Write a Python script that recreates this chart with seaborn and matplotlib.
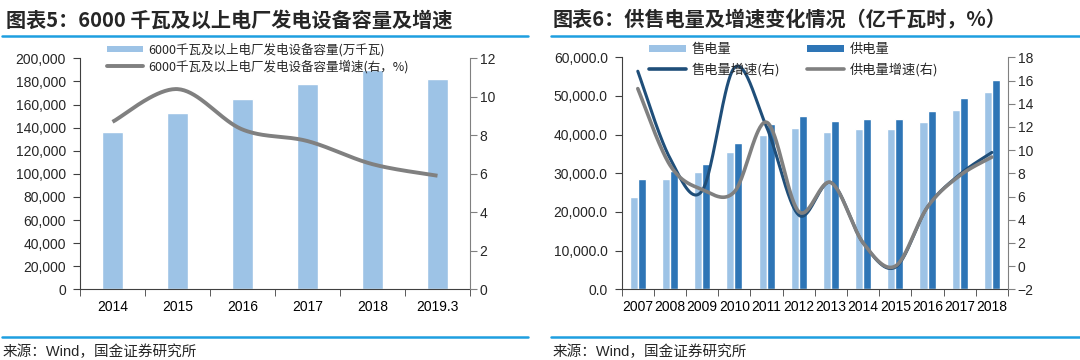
import numpy as np
import pandas as pd
import matplotlib
matplotlib.use("Agg")
import matplotlib.pyplot as plt
import seaborn as sns
from matplotlib.patches import Patch
from matplotlib.lines import Line2D
from matplotlib.ticker import FuncFormatter

# data
years_l = ["2014", "2015", "2016", "2017", "2018", "2019.3"]
capacity = [136400, 152400, 164500, 177700, 189800, 181800]
cap_growth = [8.7, 10.4, 8.3, 7.7, 6.5, 5.9]

years_r = [str(y) for y in range(2007, 2019)]
sales = [23900, 28400, 30300, 35400, 39800, 41700, 40700, 41400, 41500, 43200, 46400, 51000]
supply = [28400, 30500, 32500, 37900, 42700, 44800, 43500, 44100, 44100, 46200, 49500, 54100]
sales_growth = [16.8, 9.3, 6.5, 17.1, 12.0, 4.4, 7.2, 2.0, -0.1, 5.1, 7.9, 9.8]
supply_growth = [15.3, 8.7, 6.6, 6.4, 12.4, 4.7, 7.2, 2.0, 0.0, 5.1, 7.8, 9.4]

light = "#9DC3E6"
dark = "#2E75B6"
navy = "#1F4E79"
gray = "#808080"
rule_blue = "#1E9FE0"

sns.set_style("ticks")
plt.rcParams["font.family"] = ["Liberation Sans", "Noto Sans CJK SC", "DejaVu Sans"]
cjk = ["Noto Sans CJK SC", "DejaVu Sans"]


def smooth(ys, n=40):
    # excel-like smoothed line (bezier through the points)
    pts = np.column_stack([np.arange(len(ys)), ys]).astype(float)
    xs_out, ys_out = [], []
    for i in range(len(pts) - 1):
        p0 = pts[i - 1] if i > 0 else pts[i]
        p1, p2 = pts[i], pts[i + 1]
        p3 = pts[i + 2] if i + 2 < len(pts) else pts[i + 1]
        c1 = p1 + (p2 - p0) / 6
        c2 = p2 - (p3 - p1) / 6
        t = np.linspace(0, 1, n)[:, None]
        b = ((1 - t) ** 3) * p1 + 3 * ((1 - t) ** 2) * t * c1 + 3 * (1 - t) * t ** 2 * c2 + t ** 3 * p2
        xs_out.extend(b[:, 0])
        ys_out.extend(b[:, 1])
    return xs_out, ys_out


def style_axes(ax, ax2, n):
    ax.spines["top"].set_visible(False)
    ax.spines["right"].set_visible(False)
    ax.spines["left"].set_color("#404040")
    ax.spines["bottom"].set_color("#404040")
    for s in ["top", "left", "bottom"]:
        ax2.spines[s].set_visible(False)
    ax2.spines["right"].set_color(gray)
    ax.set_xlim(-0.5, n - 0.5)
    ax.set_xticks(np.arange(-0.5, n, 1), minor=True)
    ax.tick_params(axis="x", which="major", length=0, pad=8, labelsize=10, colors="black")
    ax.tick_params(axis="x", which="minor", length=5, direction="out", color="#404040")
    ax.tick_params(axis="y", length=5, direction="out", pad=5, labelsize=10, color="#404040")
    ax2.tick_params(axis="y", length=5, direction="out", pad=2, labelsize=10, color=gray)
    ax.set_xlabel("")
    ax.set_ylabel("")


fig = plt.figure(figsize=(10.8, 3.6), dpi=100)

# left chart
ax = fig.add_axes([80 / 1080, 1 - 289.3 / 360, 390 / 1080, 231 / 360])
sns.barplot(x=years_l, y=capacity, color=light, saturation=1, width=0.33, ax=ax)
ax.set_ylim(0, 200000)
ax.set_yticks(range(0, 200001, 20000))
ax.yaxis.set_major_formatter(FuncFormatter(lambda v, p: f"{v:,.0f}"))
ax2 = ax.twinx()
sx, sy = smooth(cap_growth)
ax2.plot(sx, sy, color=gray, lw=2.8, solid_capstyle="butt")
ax2.set_ylim(0, 12)
ax2.set_yticks(range(0, 13, 2))
style_axes(ax, ax2, len(years_l))

fig.legend(handles=[Patch(facecolor=light, edgecolor="none"),
                    Line2D([], [], color=gray, lw=2.8)],
           labels=["6000千瓦及以上电厂发电设备容量(万千瓦)", "6000千瓦及以上电厂发电设备容量增速(右，%)"],
           loc="upper left", bbox_to_anchor=(107 / 1080, 1 - 43 / 360), frameon=False,
           prop={"family": cjk, "size": 9}, handlelength=2.9, handleheight=0.45,
           handletextpad=0.4, labelspacing=0.25, borderpad=0, borderaxespad=0)

# right chart
axr = fig.add_axes([621.7 / 1080, 1 - 289.3 / 360, 386.3 / 1080, 232 / 360])
df = pd.DataFrame({"year": years_r * 2,
                   "value": sales + supply,
                   "series": ["售电量"] * len(years_r) + ["供电量"] * len(years_r)})
sns.barplot(data=df, x="year", y="value", hue="series", palette=[light, dark],
            saturation=1, width=0.5, ax=axr, legend=False)
axr.set_ylim(0, 60000)
axr.set_yticks(range(0, 60001, 10000))
axr.yaxis.set_major_formatter(FuncFormatter(lambda v, p: f"{v:,.1f}"))
axr2 = axr.twinx()
sx, sy = smooth(sales_growth)
axr2.plot(sx, sy, color=navy, lw=2.2)
sx, sy = smooth(supply_growth)
axr2.plot(sx, sy, color=gray, lw=2.6)
axr2.set_ylim(-2, 18)
axr2.set_yticks(range(-2, 19, 2))
style_axes(axr, axr2, len(years_r))

fig.legend(handles=[Patch(facecolor=light, edgecolor="none"),
                    Line2D([], [], color=navy, lw=2.6),
                    Patch(facecolor=dark, edgecolor="none"),
                    Line2D([], [], color=gray, lw=2.6)],
           labels=["售电量", "售电量增速(右)", "供电量", "供电量增速(右)"],
           ncol=2, loc="upper left", bbox_to_anchor=(649 / 1080, 1 - 43 / 360), frameon=False,
           prop={"family": cjk, "size": 9.5}, handlelength=2.8, handleheight=0.5,
           handletextpad=0.45, labelspacing=0.5, columnspacing=2.0, borderpad=0, borderaxespad=0)

# titles, rules and source lines
fig.text(6 / 1080, 1 - 20 / 360, "图表5：6000 千瓦及以上电厂发电设备容量及增速",
         family=cjk, fontsize=14.5, fontweight="bold", va="center", ha="left")
fig.text(553 / 1080, 1 - 20 / 360, "图表6：供售电量及增速变化情况（亿千瓦时，%）",
         family=cjk, fontsize=14.5, fontweight="bold", va="center", ha="left")
for x0, x1 in [(2, 528), (551, 1080)]:
    for yy in (36, 337):
        fig.add_artist(Line2D([x0 / 1080, x1 / 1080], [1 - yy / 360, 1 - yy / 360],
                              color=rule_blue, lw=1.8))
for x0 in (3, 553):
    fig.text(x0 / 1080, 1 - 352 / 360, "来源：Wind，国金证券研究所",
             family=["Liberation Sans", "Noto Sans CJK SC", "DejaVu Sans"],
             fontsize=10.5, va="center", ha="left")

plt.savefig("out.png", dpi=100)
